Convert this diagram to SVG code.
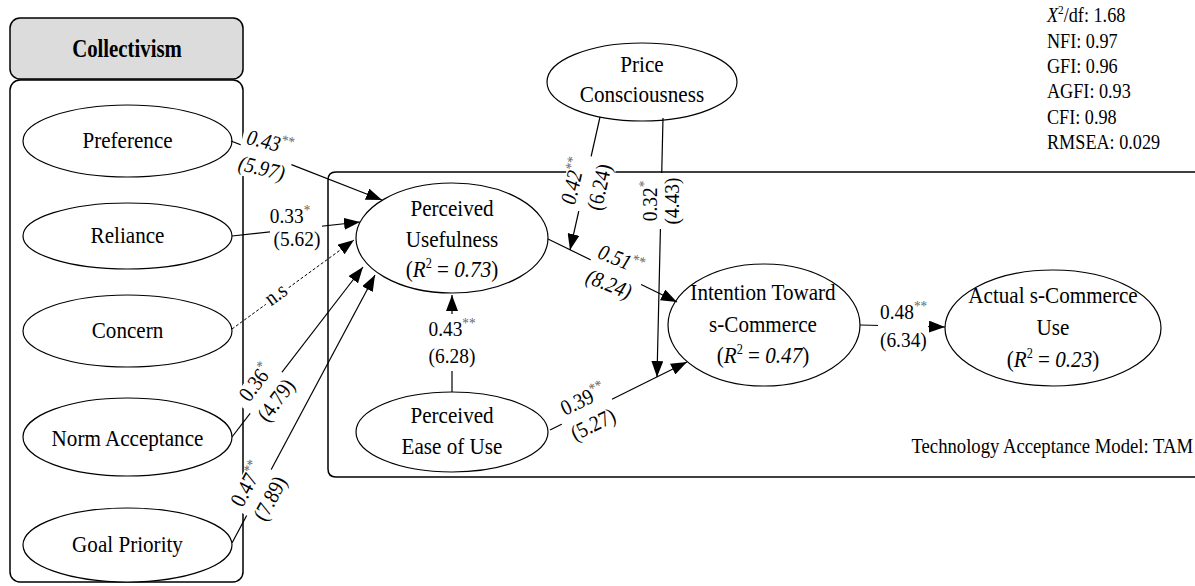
<svg xmlns="http://www.w3.org/2000/svg" width="1195" height="586" viewBox="0 0 1195 586">
<style>
text{font-family:"Liberation Serif","Times New Roman",serif;fill:#000}
.n{font-size:24px;text-anchor:middle}
.l{font-size:22px;text-anchor:middle}
.st{text-anchor:start}
.i{font-style:italic}
.s{font-size:15px;fill:#666;font-style:normal}
.s2{font-size:14px;font-style:normal}
.e{fill:#fff;stroke:#000;stroke-width:1.2}
.box{fill:none;stroke:#000;stroke-width:1.5}
.c{stroke:#000;stroke-width:1.2;fill:none;marker-end:url(#ah)}
.d{stroke-dasharray:3 2;stroke-width:1}
.bg{fill:#fff}
.fit{font-size:21px}
</style>
<defs>
<marker id="ah" markerUnits="userSpaceOnUse" markerWidth="17" markerHeight="12" refX="16" refY="6" orient="auto">
<path d="M0,0 L16,6 L0,12 Z" fill="#000"/>
</marker>
</defs>
<rect width="1195" height="586" fill="#fff"/>

<g id="collectivism">
<rect x="10" y="18" width="233" height="61" rx="10" fill="#dcdcdc" stroke="#000" stroke-width="1.5"/>
<rect x="10" y="80" width="233" height="502" rx="10" class="box"/>
<text class="n" font-weight="bold" transform="translate(127,0) scale(.8,1)" x="0" y="57" style="font-size:26px">Collectivism</text>
</g>

<g id="tam">
<path class="box" d="M1200,172 H336 Q328,172 328,180 V469 Q328,477 336,477 H1200"/>
<text class="fit" transform="translate(1193,453) scale(.89,1)" x="0" y="0" text-anchor="end">Technology Acceptance Model: TAM</text>
</g>

<g id="fit" transform="translate(1047,0) scale(.866,1)">
<text class="fit" x="0" y="22"><tspan class="i">X</tspan><tspan font-size="13" dy="-8">2</tspan><tspan dy="8">/df: 1.68</tspan></text>
<text class="fit" x="0" y="48">NFI: 0.97</text>
<text class="fit" x="0" y="73">GFI: 0.96</text>
<text class="fit" x="0" y="98">AGFI: 0.93</text>
<text class="fit" x="0" y="124">CFI: 0.98</text>
<text class="fit" x="0" y="149">RMSEA: 0.029</text>
</g>

<g id="preference"><ellipse class="e" cx="127.5" cy="141" rx="104.5" ry="36"/><text class="n" transform="translate(127.5,0) scale(.88,1)" x="0" y="148">Preference</text></g>
<g id="reliance"><ellipse class="e" cx="127.5" cy="236" rx="104.5" ry="33"/><text class="n" transform="translate(127.5,0) scale(.88,1)" x="0" y="243">Reliance</text></g>
<g id="concern"><ellipse class="e" cx="127.5" cy="331" rx="104.5" ry="36"/><text class="n" transform="translate(127.5,0) scale(.88,1)" x="0" y="338">Concern</text></g>
<g id="norm-acceptance"><ellipse class="e" cx="127.5" cy="437" rx="104.5" ry="39"/><text class="n" transform="translate(127.5,0) scale(.88,1)" x="0" y="446">Norm Acceptance</text></g>
<g id="goal-priority"><ellipse class="e" cx="127.5" cy="545" rx="104.5" ry="37"/><text class="n" transform="translate(127.5,0) scale(.88,1)" x="0" y="552">Goal Priority</text></g>

<g id="perceived-usefulness"><ellipse class="e" cx="452" cy="238" rx="96" ry="55"/>
<text class="n" transform="translate(452,0) scale(.88,1)"><tspan x="0" y="216">Perceived</tspan><tspan x="0" y="247">Usefulness</tspan><tspan x="0" y="277">(<tspan class="i">R</tspan><tspan class="s2" dy="-9">2</tspan><tspan dy="9"> = </tspan><tspan class="i">0.73</tspan>)</tspan></text></g>

<g id="perceived-ease"><ellipse class="e" cx="452" cy="432" rx="96" ry="40"/>
<text class="n" transform="translate(452,0) scale(.88,1)"><tspan x="0" y="423">Perceived</tspan><tspan x="0" y="454">Ease of Use</tspan></text></g>

<g id="price-consciousness"><ellipse class="e" cx="642" cy="82" rx="95" ry="39"/>
<text class="n" transform="translate(642,0) scale(.88,1)"><tspan x="0" y="72">Price</tspan><tspan x="0" y="102">Consciousness</tspan></text></g>

<g id="intention"><ellipse class="e" cx="764" cy="325" rx="96" ry="61"/>
<text class="n" transform="translate(763,0) scale(.88,1)"><tspan x="0" y="300">Intention Toward</tspan><tspan x="0" y="332">s-Commerce</tspan><tspan x="0" y="363">(<tspan class="i">R</tspan><tspan class="s2" dy="-9">2</tspan><tspan dy="9"> = </tspan><tspan class="i">0.47</tspan>)</tspan></text></g>

<g id="actual-use"><ellipse class="e" cx="1053" cy="328" rx="108" ry="58"/>
<text class="n" transform="translate(1053,0) scale(.88,1)"><tspan x="0" y="303">Actual s-Commerce</tspan><tspan x="0" y="335">Use</tspan><tspan x="0" y="367">(<tspan class="i">R</tspan><tspan class="s2" dy="-9">2</tspan><tspan dy="9"> = </tspan><tspan class="i">0.23</tspan>)</tspan></text></g>

<g id="connectors">
<line class="c" x1="231" y1="141" x2="382" y2="200"/>
<line class="c" x1="232" y1="236" x2="360" y2="222"/>
<line class="c d" x1="232" y1="329" x2="354" y2="240"/>
<line class="c" x1="232" y1="437" x2="363" y2="267"/>
<line class="c" x1="232" y1="543" x2="375" y2="275"/>
<line class="c" x1="452" y1="392" x2="452" y2="295"/>
<line class="c" x1="548" y1="239" x2="677" y2="302"/>
<line class="c" x1="600" y1="117" x2="570" y2="250"/>
<line class="c" x1="663" y1="118" x2="657" y2="377"/>
<line class="c" x1="550" y1="430" x2="687" y2="362"/>
<line class="c" x1="860" y1="325" x2="945" y2="327"/>
</g>

<g id="labels">
<g transform="translate(266,155) rotate(14)">
<rect class="bg" x="-27" y="-22" width="54" height="48"/>
<text class="l i" transform="translate(1,-6) scale(.88,1)">0.43<tspan class="s" dy="-8">**</tspan></text>
<text class="l i" transform="translate(-1,21) scale(.88,1)">(5.97)</text>
</g>
<rect class="bg" x="270" y="203" width="52" height="50"/>
<text class="l" transform="translate(290,223) scale(.88,1)">0.33<tspan class="s" dy="-8">*</tspan></text>
<text class="l" transform="translate(297,246) scale(.88,1)">(5.62)</text>
<g transform="translate(277,296) rotate(-36)">
<rect class="bg" x="-14" y="-8" width="28" height="15"/>
<text class="l" transform="translate(0,5) scale(.88,1)">n.s</text>
</g>
<g transform="translate(265,392) rotate(-53)">
<rect class="bg" x="-26" y="-22" width="52" height="48"/>
<text class="l" transform="translate(2,-6) scale(.88,1)">0.36<tspan class="s" dy="-8">*</tspan></text>
<text class="l" transform="translate(0,21) scale(.88,1)">(4.79)</text>
</g>
<g transform="translate(258,492) rotate(-62)">
<rect class="bg" x="-26" y="-22" width="52" height="48"/>
<text class="l" transform="translate(2,-6) scale(.88,1)">0.47<tspan class="s" dy="-8">**</tspan></text>
<text class="l" transform="translate(0,21) scale(.88,1)">(7.89)</text>
</g>
<g transform="translate(586,184) rotate(-77)">
<rect class="bg" x="-28" y="-22" width="56" height="48"/>
<text class="l i" transform="translate(0,-6) scale(.88,1)">0.42<tspan class="s" dy="-8">**</tspan></text>
<text class="l" transform="translate(0,21) scale(.88,1)">(6.24)</text>
</g>
<g transform="translate(661,201) rotate(-90)">
<rect class="bg" x="-28" y="-22" width="56" height="46"/>
<text class="l" transform="translate(0,-4) scale(.88,1)">0.32<tspan class="s" dy="-8">*</tspan></text>
<text class="l" transform="translate(0,18) scale(.88,1)">(4.43)</text>
</g>
<g transform="translate(616,272) rotate(22)">
<rect class="bg" x="-28" y="-22" width="56" height="48"/>
<text class="l i" transform="translate(0,-6) scale(.88,1)">0.51<tspan class="s" dy="-8">**</tspan></text>
<text class="l i" transform="translate(-2,21) scale(.88,1)">(8.24)</text>
</g>
<g transform="translate(587,412) rotate(-26)">
<rect class="bg" x="-28" y="-22" width="56" height="48"/>
<text class="l" transform="translate(2,-6) scale(.88,1)">0.39<tspan class="s" dy="-8">**</tspan></text>
<text class="l" transform="translate(0,21) scale(.88,1)">(5.27)</text>
</g>
<rect class="bg" x="426" y="314" width="52" height="57"/>
<text class="l" transform="translate(452,336) scale(.88,1)">0.43<tspan class="s" dy="-8">**</tspan></text>
<text class="l" transform="translate(452,363) scale(.88,1)">(6.28)</text>
<rect class="bg" x="878" y="302" width="50" height="52"/>
<text class="l st" transform="translate(880,319) scale(.88,1)">0.48<tspan class="s" dy="-8">**</tspan></text>
<text class="l st" transform="translate(880,347) scale(.88,1)">(6.34)</text>
</g>
</svg>
